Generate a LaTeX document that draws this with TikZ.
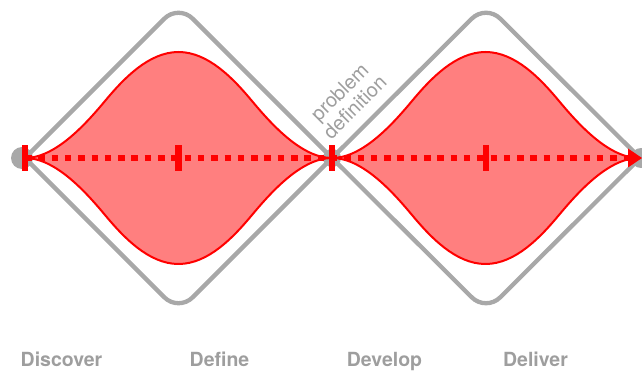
\documentclass[tikz,border=0pt]{standalone}
\usepackage{fontspec}
\setmainfont{TeX Gyre Heros}
\definecolor{dgray}{HTML}{A8A8A8}
\definecolor{lred}{HTML}{FF7F7F}
\definecolor{lblgray}{HTML}{9E9E9E}
\newcommand\lensshape{(25,214) .. controls (55,214) and (85,247) .. (105,271)
  .. controls (123,292.6) and (148.5,320) .. (178.5,320)
  .. controls (208.5,320) and (234,292.6) .. (252,271)
  .. controls (272,247) and (302,214) .. (332,214)
  .. controls (302,214) and (272,181) .. (252,157)
  .. controls (234,135.4) and (208.5,108) .. (178.5,108)
  .. controls (148.5,108) and (123,135.4) .. (105,157)
  .. controls (85,181) and (55,214) .. (25,214) -- cycle}
\begin{document}
\begin{tikzpicture}[x=1pt,y=1pt,
  diam/.style={draw=dgray,line width=4.3pt,rounded corners=20pt},
  lens/.style={draw=red,fill=lred,line width=2pt,line join=round},
  vdot/.style={circle,fill=dgray,inner sep=0pt},
  tickmark/.style={draw=red,line width=6.5pt},
  dotline/.style={draw=red,line width=6.5pt,dash pattern=on 6.5pt off 6.8pt},
  stagelbl/.style={font=\fontsize{19.5}{23}\selectfont\bfseries,text=lblgray,anchor=base},
]
\useasboundingbox (0,0) rectangle (642,372);
\coordinate (L) at (25,214);
\coordinate (M) at (332,214);
\coordinate (R) at (640,214);
\coordinate (T1) at (178.5,367.5);
\coordinate (B1) at (178.5,60.5);
\coordinate (T2) at (486,367.5);
\coordinate (B2) at (486,60.5);
\coordinate (C1) at (178.5,214);
\coordinate (C2) at (486,214);
\coordinate (AE) at (629,214);
% diamonds
\draw[diam] (L) -- (T1) -- (M);
\draw[diam] (L) -- (B1) -- (M);
\draw[diam] (M) -- (T2) -- (R);
\draw[diam] (M) -- (B2) -- (R);
% vertex dots
\node[vdot,minimum size=22pt] (vL) at (22,214) {};
\node[vdot,minimum size=18pt] (vM) at (M) {};
\node[vdot,minimum size=20pt] (vR) at (641,214) {};
% lenses
\path[lens] \lensshape;
\begin{scope}[xshift=307pt]
\path[lens] \lensshape;
\end{scope}
% dotted axis
\draw[dotline] (L) -- (AE);
\fill[red] (628,223.5) -- (642,214) -- (628,204.5) -- cycle;
% ticks
\foreach \p in {L,C1,M,C2}{
  \draw[tickmark] ([yshift=-13pt]\p) -- ([yshift=13pt]\p);
}
% text
\node[rotate=45,align=center,text=lblgray,font=\fontsize{20}{21.5}\selectfont] (pd) at (347,272.5) {problem\\definition};
\node[stagelbl] (s1) at (61.5,6) {Discover};
\node[stagelbl] (s2) at (219.5,6) {Define};
\node[stagelbl] (s3) at (384.5,6) {Develop};
\node[stagelbl] (s4) at (535.5,6) {Deliver};
\end{tikzpicture}
\end{document}
